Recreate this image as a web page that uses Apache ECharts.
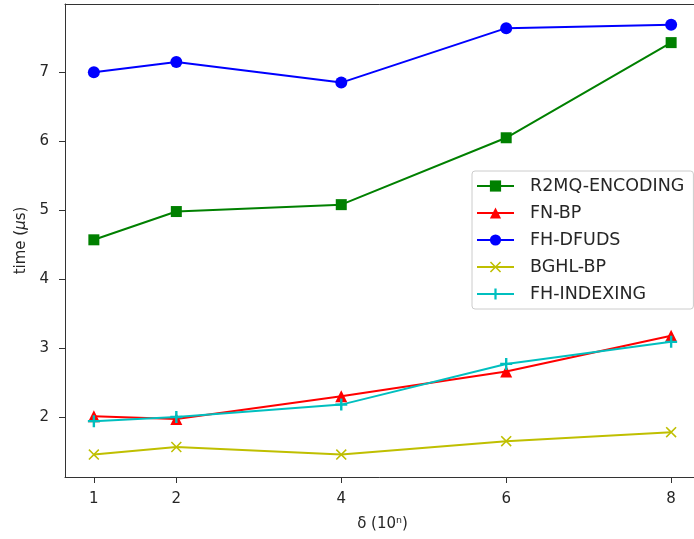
<!DOCTYPE html>
<html><head><meta charset="utf-8">
<script src="https://cdn.jsdelivr.net/npm/echarts@6/dist/echarts.min.js"></script>
<style>html,body{margin:0;padding:0;background:#fff}#c{width:694px;height:539px}</style>
</head><body><div id="c"></div>
<script>
const xValues = [1, 2, 4, 6, 8];
const xTicks = [1, 2, 4, 6, 8];
const yTicks = [2, 3, 4, 5, 6, 7];
const r2mq = [4.57, 4.98, 5.08, 6.05, 7.43];
const fnbp = [2.01, 1.97, 2.30, 2.66, 3.18];
const fhdfuds = [7.00, 7.15, 6.85, 7.64, 7.69];
const bghl = [1.455, 1.565, 1.455, 1.65, 1.78];
const fhidx = [1.94, 2.00, 2.18, 2.77, 3.09];
const names = ['R2MQ-ENCODING', 'FN-BP', 'FH-DFUDS', 'BGHL-BP', 'FH-INDEXING'];

const pair = arr => xValues.map((x, i) => [x, arr[i]]);
const font = 'DejaVu Sans';
const txt = '#262626';
const axisCol = '#333';

function ser(name, data, color, symbol, size) {
  return {
    name, type: 'line', data: pair(data), symbol, symbolSize: size,
    showSymbol: true, animation: false, xAxisIndex: 0,
    lineStyle: { color, width: 2 },
    itemStyle: { color },
    emphasis: { disabled: true }
  };
}
const plusPath = 'path://M4,0H6V4H10V6H6V10H4V6H0V4H4Z';
const xPath = 'path://M0,1L1,0L5,4L9,0L10,1L6,5L10,9L9,10L5,6L1,10L0,9L4,5Z';

const chart = echarts.init(document.getElementById('c'), null, { renderer: 'canvas' });
chart.setOption({
  backgroundColor: '#fff',
  animation: false,
  grid: { left: 65, top: 4, width: 635, height: 473, show: false, containLabel: false, outerBoundsMode: 'none' },
  xAxis: [{
    type: 'value', min: 0.65, max: 8.35,
    name: 'δ (10ⁿ)', nameLocation: 'middle', nameGap: 40,
    nameTextStyle: { fontFamily: font, fontSize: 15, color: txt },
    axisLine: { show: true, lineStyle: { color: axisCol, width: 1 } },
    axisTick: { show: true, inside: false, length: 6, lineStyle: { color: axisCol }, customValues: xTicks },
    axisLabel: { fontFamily: font, fontSize: 15, color: txt, margin: 15, customValues: xTicks },
    splitLine: { show: false }
  }, {
    type: 'value', position: 'top', min: 0.65, max: 8.35,
    axisLine: { show: true, onZero: false, lineStyle: { color: axisCol, width: 1 } },
    axisTick: { show: false }, axisLabel: { show: false }, splitLine: { show: false }
  }],
  yAxis: {
    type: 'value', min: 1.13, max: 7.99,
    name: 'time ({i|μ}s)', nameLocation: 'middle', nameGap: 36, nameRotate: 90,
    nameTextStyle: { fontFamily: font, fontSize: 15, color: txt, rich: { i: { fontFamily: font, fontSize: 15, fontStyle: 'italic', color: txt } } },
    axisLine: { show: true, onZero: false, lineStyle: { color: axisCol, width: 1 } },
    axisTick: { show: true, inside: false, length: 6, lineStyle: { color: axisCol }, customValues: yTicks },
    axisLabel: { fontFamily: font, fontSize: 15, color: txt, margin: 16, customValues: yTicks },
    splitLine: { show: false }
  },
  legend: {
    orient: 'vertical', left: 472, top: 171,
    padding: [6, 9, 6, 4],
    itemWidth: 37, itemHeight: 14, itemGap: 9,
    backgroundColor: 'rgba(255,255,255,0.8)',
    borderColor: '#ccc', borderWidth: 1, borderRadius: 3,
    textStyle: { fontFamily: font, fontSize: 17.5, color: txt, padding: [0, 0, 0, 11] },
    data: names
  },
  series: [
    ser(names[0], r2mq, '#008000', 'rect', 11),
    ser(names[1], fnbp, '#ff0000', 'triangle', 12),
    ser(names[2], fhdfuds, '#0000ff', 'circle', 12),
    ser(names[3], bghl, '#bfbf00', xPath, 11),
    ser(names[4], fhidx, '#00bfbf', plusPath, 12)
  ]
});
</script></body></html>
